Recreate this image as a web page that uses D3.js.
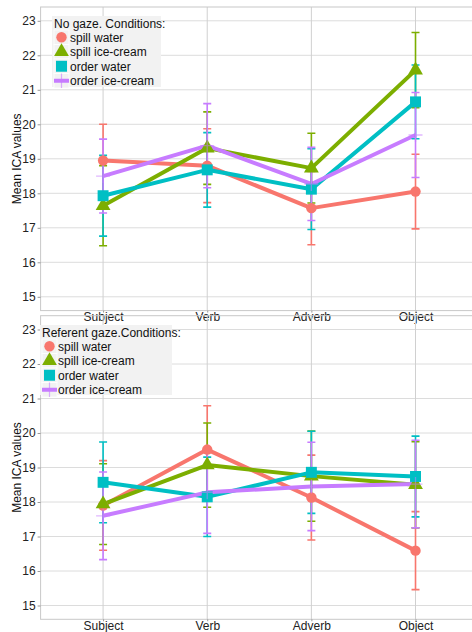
<!DOCTYPE html>
<html>
<head>
<meta charset="utf-8">
<script src="https://cdn.jsdelivr.net/npm/d3@7"></script>
<style>
  body { margin: 0; background: #fff; }
  svg { display: block; font-family: "Liberation Sans", Arial, sans-serif; }
</style>
</head>
<body>
<svg id="chart"></svg>
<script>
const categories = ["Subject", "Verb", "Adverb", "Object"];
const conditions = ["spill water", "spill ice-cream", "order water", "order ice-cream"];
const yTicks = [15, 16, 17, 18, 19, 20, 21, 22, 23];
const colors = ["#F8766D", "#7CAE00", "#00BFC4", "#C77CFF"];
const shapes = ["circle", "triangle", "square", "plus"];

// No gaze: means and half-widths of error bars
const ngSpillWater = [18.95, 18.80, 17.57, 18.05];
const ngSpillWaterErr = [1.05, 1.07, 1.06, 1.08];
const ngSpillIce = [17.64, 19.31, 18.73, 21.57];
const ngSpillIceErr = [1.16, 1.05, 1.01, 1.09];
const ngOrderWater = [17.93, 18.68, 18.12, 20.65];
const ngOrderWaterErr = [1.17, 1.08, 1.17, 1.07];
const ngOrderIce = [18.50, 19.38, 18.27, 19.69];
const ngOrderIceErr = [1.07, 1.22, 1.06, 1.23];

// Referent gaze
const rgSpillWater = [17.90, 19.52, 18.13, 16.59];
const rgSpillWaterErr = [1.30, 1.27, 1.23, 1.13];
const rgSpillIce = [17.94, 19.07, 18.75, 18.50];
const rgSpillIceErr = [1.17, 1.22, 1.31, 1.25];
const rgOrderWater = [18.57, 18.15, 18.86, 18.74];
const rgOrderWaterErr = [1.17, 1.15, 1.19, 1.17];
const rgOrderIce = [17.60, 18.28, 18.45, 18.52];
const rgOrderIceErr = [1.27, 1.19, 1.28, 1.27];

const width = 472, height = 632;
const svg = d3.select("#chart").attr("width", width).attr("height", height);

const panels = [
  { title: "No gaze. Conditions:", top: 7, bottom: 310.6,
    means: [ngSpillWater, ngSpillIce, ngOrderWater, ngOrderIce],
    errs: [ngSpillWaterErr, ngSpillIceErr, ngOrderWaterErr, ngOrderIceErr],
    legend: { x: 52, y: 16, w: 109, h: 71 } },
  { title: "Referent gaze.Conditions:", top: 315.7, bottom: 619.3,
    means: [rgSpillWater, rgSpillIce, rgOrderWater, rgOrderIce],
    errs: [rgSpillWaterErr, rgSpillIceErr, rgOrderWaterErr, rgOrderIceErr],
    legend: { x: 40, y: 325, w: 132, h: 70 } }
];

const left = 40.6, right = 478;
const x = d3.scalePoint().domain(categories).range([left, right]).padding(0.6);

function drawPoint(g, shape, cx, cy, color) {
  if (shape === "plus") {
    g.append("path")
      .attr("d", `M${cx - 7},${cy}H${cx + 7}M${cx},${cy - 7}V${cy + 7}`)
      .attr("stroke", color).attr("stroke-opacity", 0.55).attr("stroke-width", 1.3);
    return;
  }
  const type = shape === "circle" ? d3.symbolCircle : shape === "triangle" ? d3.symbolTriangle : d3.symbolSquare;
  const size = shape === "circle" ? 85 : shape === "triangle" ? 95 : 120;
  g.append("path")
    .attr("transform", `translate(${cx},${cy})`)
    .attr("d", d3.symbol(type, size)())
    .attr("fill", color);
}

panels.forEach(p => {
  const y = d3.scaleLinear().domain([14.6, 23.4]).range([p.bottom, p.top]);
  const g = svg.append("g");

  // grid
  g.append("g").selectAll("line").data(yTicks).join("line")
    .attr("x1", left).attr("x2", right)
    .attr("y1", d => y(d)).attr("y2", d => y(d))
    .attr("stroke", "#dcdcdc").attr("stroke-width", 1);
  g.append("g").selectAll("line").data(categories).join("line")
    .attr("x1", d => x(d)).attr("x2", d => x(d))
    .attr("y1", p.top).attr("y2", p.bottom)
    .attr("stroke", "#d0d0d0").attr("stroke-width", 1);

  // border
  g.append("rect").attr("x", left).attr("y", p.top)
    .attr("width", right - left).attr("height", p.bottom - p.top)
    .attr("fill", "none").attr("stroke", "#c8c8c8").attr("stroke-width", 1);

  // axes
  const yAxis = g.append("g").attr("transform", `translate(${left},0)`)
    .call(d3.axisLeft(y).tickValues(yTicks).tickSize(3).tickPadding(2));
  yAxis.select(".domain").remove();
  yAxis.selectAll("line").attr("stroke", "#999");
  yAxis.selectAll("text").attr("font-size", 12).attr("fill", "#222")
    .attr("font-family", "Liberation Sans, Arial, sans-serif");

  const xAxis = g.append("g").attr("transform", `translate(0,${p.bottom})`)
    .call(d3.axisBottom(x).tickSize(2).tickPadding(0));
  xAxis.select(".domain").remove();
  xAxis.selectAll("line").attr("stroke", "#999");
  xAxis.selectAll("text").attr("font-size", 12).attr("fill", "#222")
    .attr("font-family", "Liberation Sans, Arial, sans-serif");

  g.append("text")
    .attr("transform", `translate(21,${(p.top + p.bottom) / 2}) rotate(-90)`)
    .attr("text-anchor", "middle").attr("font-size", 12).attr("fill", "#111")
    .text("Mean ICA values");

  const line = d3.line().x((d, i) => x(categories[i])).y(d => y(d));

  // lines
  p.means.forEach((m, s) => {
    g.append("path").datum(m)
      .attr("fill", "none").attr("stroke", colors[s]).attr("stroke-width", 4)
      .attr("stroke-linejoin", "round").attr("d", line);
  });

  // error bars
  p.means.forEach((m, s) => {
    m.forEach((v, i) => {
      const cx = x(categories[i]);
      const lo = y(v - p.errs[s][i]), hi = y(v + p.errs[s][i]);
      g.append("path")
        .attr("d", `M${cx},${lo}V${hi}M${cx - 4},${lo}H${cx + 4}M${cx - 4},${hi}H${cx + 4}`)
        .attr("fill", "none").attr("stroke", colors[s]).attr("stroke-width", 1.6);
    });
  });

  // points
  p.means.forEach((m, s) => {
    m.forEach((v, i) => drawPoint(g, shapes[s], x(categories[i]), y(v), colors[s]));
  });

  // legend
  const L = p.legend;
  const lg = g.append("g");
  lg.append("rect").attr("x", L.x).attr("y", L.y).attr("width", L.w).attr("height", L.h)
    .attr("fill", "#f2f2f2");
  lg.append("text").attr("x", L.x + 2).attr("y", L.y + 11.5)
    .attr("font-size", 12).attr("fill", "#111").text(p.title);
  conditions.forEach((c, s) => {
    const ky = L.y + 14 + s * 14.5;
    const kx = L.x + 2;
    lg.append("rect").attr("x", kx).attr("y", ky).attr("width", 15).attr("height", 14.5)
      .attr("fill", "#f2f2f2").attr("stroke", "#fff").attr("stroke-width", 0.8);
    const cy = ky + 7.25, cx = kx + 7.5;
    if (shapes[s] === "plus") {
      lg.append("path").attr("d", `M${kx},${cy}H${kx + 15}`)
        .attr("stroke", colors[s]).attr("stroke-width", 4);
      lg.append("path").attr("d", `M${cx},${ky}V${ky + 14.5}`)
        .attr("stroke", colors[s]).attr("stroke-opacity", 0.6).attr("stroke-width", 1.2);
    } else {
      drawPoint(lg, shapes[s], cx, cy, colors[s]);
    }
    lg.append("text").attr("x", kx + 16).attr("y", cy + 4.3)
      .attr("font-size", 12).attr("fill", "#111").text(c);
  });
});
</script>
</body>
</html>
